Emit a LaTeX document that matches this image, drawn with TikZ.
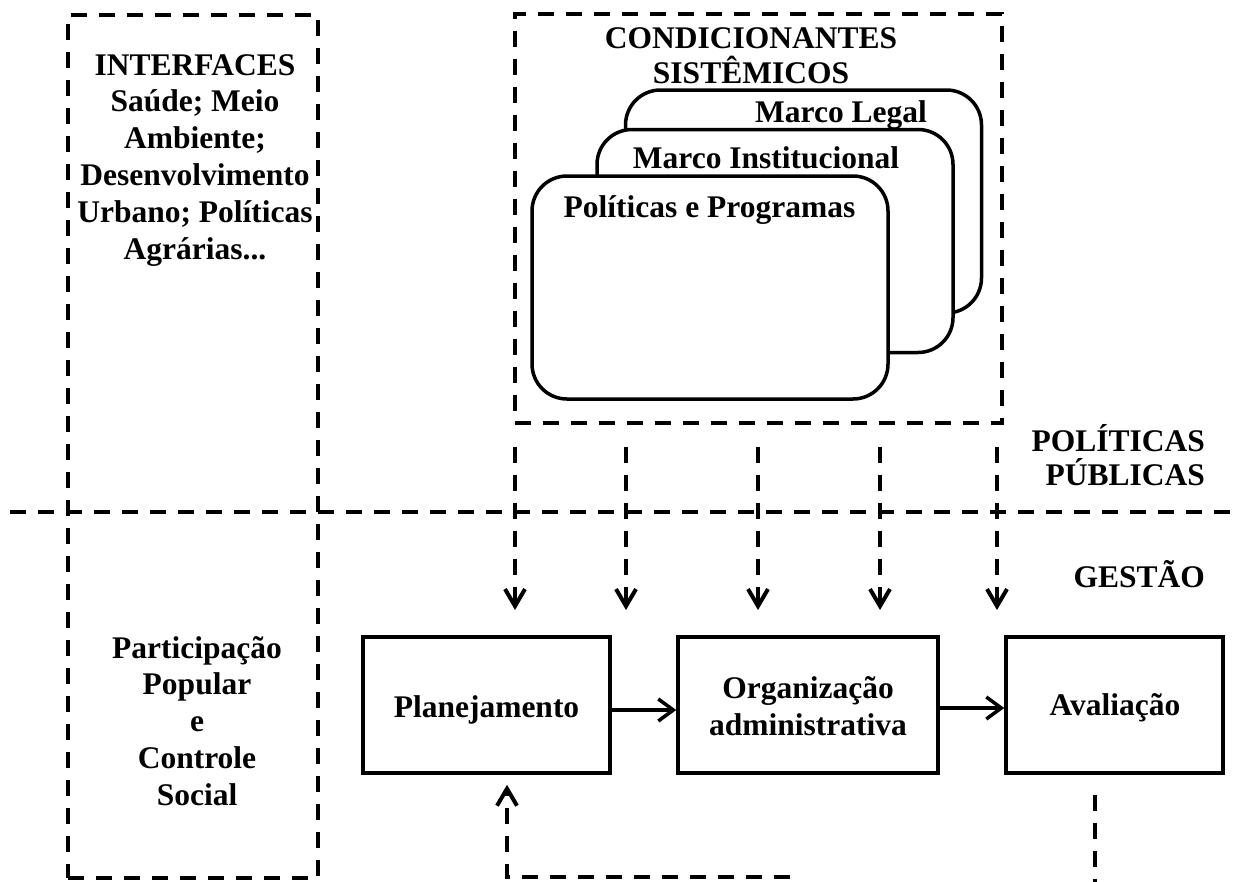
\documentclass[tikz,border=0pt]{standalone}
\usepackage{fontspec}
\setmainfont{Liberation Serif}
\usetikzlibrary{arrows.meta}
\newcommand\cl[1]{\vtop{\lineskiplimit=-50pt\halign{\hfil##\hfil\cr#1\crcr}}}
\newcommand\rl[1]{\vtop{\lineskiplimit=-50pt\halign{\hfil##\cr#1\crcr}}}
\begin{document}
\begin{tikzpicture}[x=1pt,y=-1pt,
  txt/.style={font={\fontsize{31.5}{36.8}\selectfont\bfseries}, inner sep=0pt, anchor=base},
  dsh/.style={line width=4pt, dash pattern=on 16pt off 12pt},
  frame/.style={dsh, draw, inner sep=0pt, rectangle},
  rbox/.style={draw, line width=3.5pt, fill=white, rounded corners=35pt, inner sep=0pt, minimum width=356pt, minimum height=223pt},
  gbox/.style={draw, line width=3.5pt, inner sep=0pt, minimum height=136pt},
  darr/.style={dsh, -{Straight Barb[length=17pt,width=20pt]}},
  sarr/.style={line width=3.5pt, -{Straight Barb[length=15pt,width=22pt]}}]
\useasboundingbox (0,0) rectangle (1233,881);
\fill[white] (0,0) rectangle (1233,881);

% dashed frames
\node[frame, minimum width=250pt, minimum height=863pt] (ifb) at (193,446.5) {};
\node[frame, minimum width=487pt, minimum height=409pt] (cfb) at (758.5,218.5) {};

% separator
\coordinate (sepL) at (10,512);
\coordinate (sepR) at (1240,512);
\draw[dsh] (sepL) -- (sepR);

% stacked rounded boxes
\node[rbox] (ml) at (803.5,201.5) {};
\node[rbox] (mi) at (775,241) {};
\node[rbox] (pp) at (710,287.5) {};

% texts
\node[txt] (tint) at (195,75) {\cl{INTERFACES\cr Saúde; Meio\cr Ambiente;\cr Desenvolvimento\cr Urbano; Políticas\cr Agrárias...}};
\node[txt] (tpart) at (197,658) {\cl{Participação\cr Popular\cr e\cr Controle\cr Social}};
\node[txt, font={\fontsize{31.5}{35}\selectfont\bfseries}] (tcond) at (751,48) {\cl{CONDICIONANTES\cr SISTÊMICOS}};
\node[txt] (tml) at (841,122) {Marco Legal};
\node[txt] (tmi) at (766,168) {Marco Institucional};
\node[txt] (tpp) at (709.5,217) {Políticas e Programas};
\node[txt, font={\fontsize{31.5}{34}\selectfont\bfseries}, anchor=base east] (tpol) at (1205,451) {\rl{POLÍTICAS\cr PÚBLICAS}};
\node[txt, anchor=base east] (tges) at (1205,587) {GESTÃO};

% management boxes
\node[gbox, minimum width=247pt] (plan) at (486.5,705) {};
\node[gbox, minimum width=260pt] (org) at (808,705) {};
\node[gbox, minimum width=217pt] (aval) at (1114.5,705) {};
\node[txt] (tplan) at (486.5,717) {Planejamento};
\node[txt, font={\fontsize{31.5}{37}\selectfont\bfseries}] (torg) at (808,698) {\cl{Organização\cr administrativa}};
\node[txt] (taval) at (1115,715) {Avaliação};

\draw[sarr] ([yshift=-5pt]plan.east) -- ([yshift=-5pt]org.west);
\draw[sarr] ([yshift=-3pt]org.east) -- ([yshift=-3pt]aval.west);

% dashed arrows down
\foreach \x [count=\i] in {515,626,758,880,997} {
  \coordinate (ds\i) at (\x,447);
  \coordinate (de\i) at (\x,610);
  \draw[darr] (ds\i) -- (de\i);
}

% feedback loop
\coordinate (fa) at (1095,795);
\coordinate (fb) at (1095,890);
\draw[dsh] (fa) -- (fb);
\coordinate (fc) at (790,877);
\coordinate (fd) at (507,877);
\draw[darr, shorten >=10pt] (fc) -- (fd) -- (fd |- plan.south);
\end{tikzpicture}
\end{document}
